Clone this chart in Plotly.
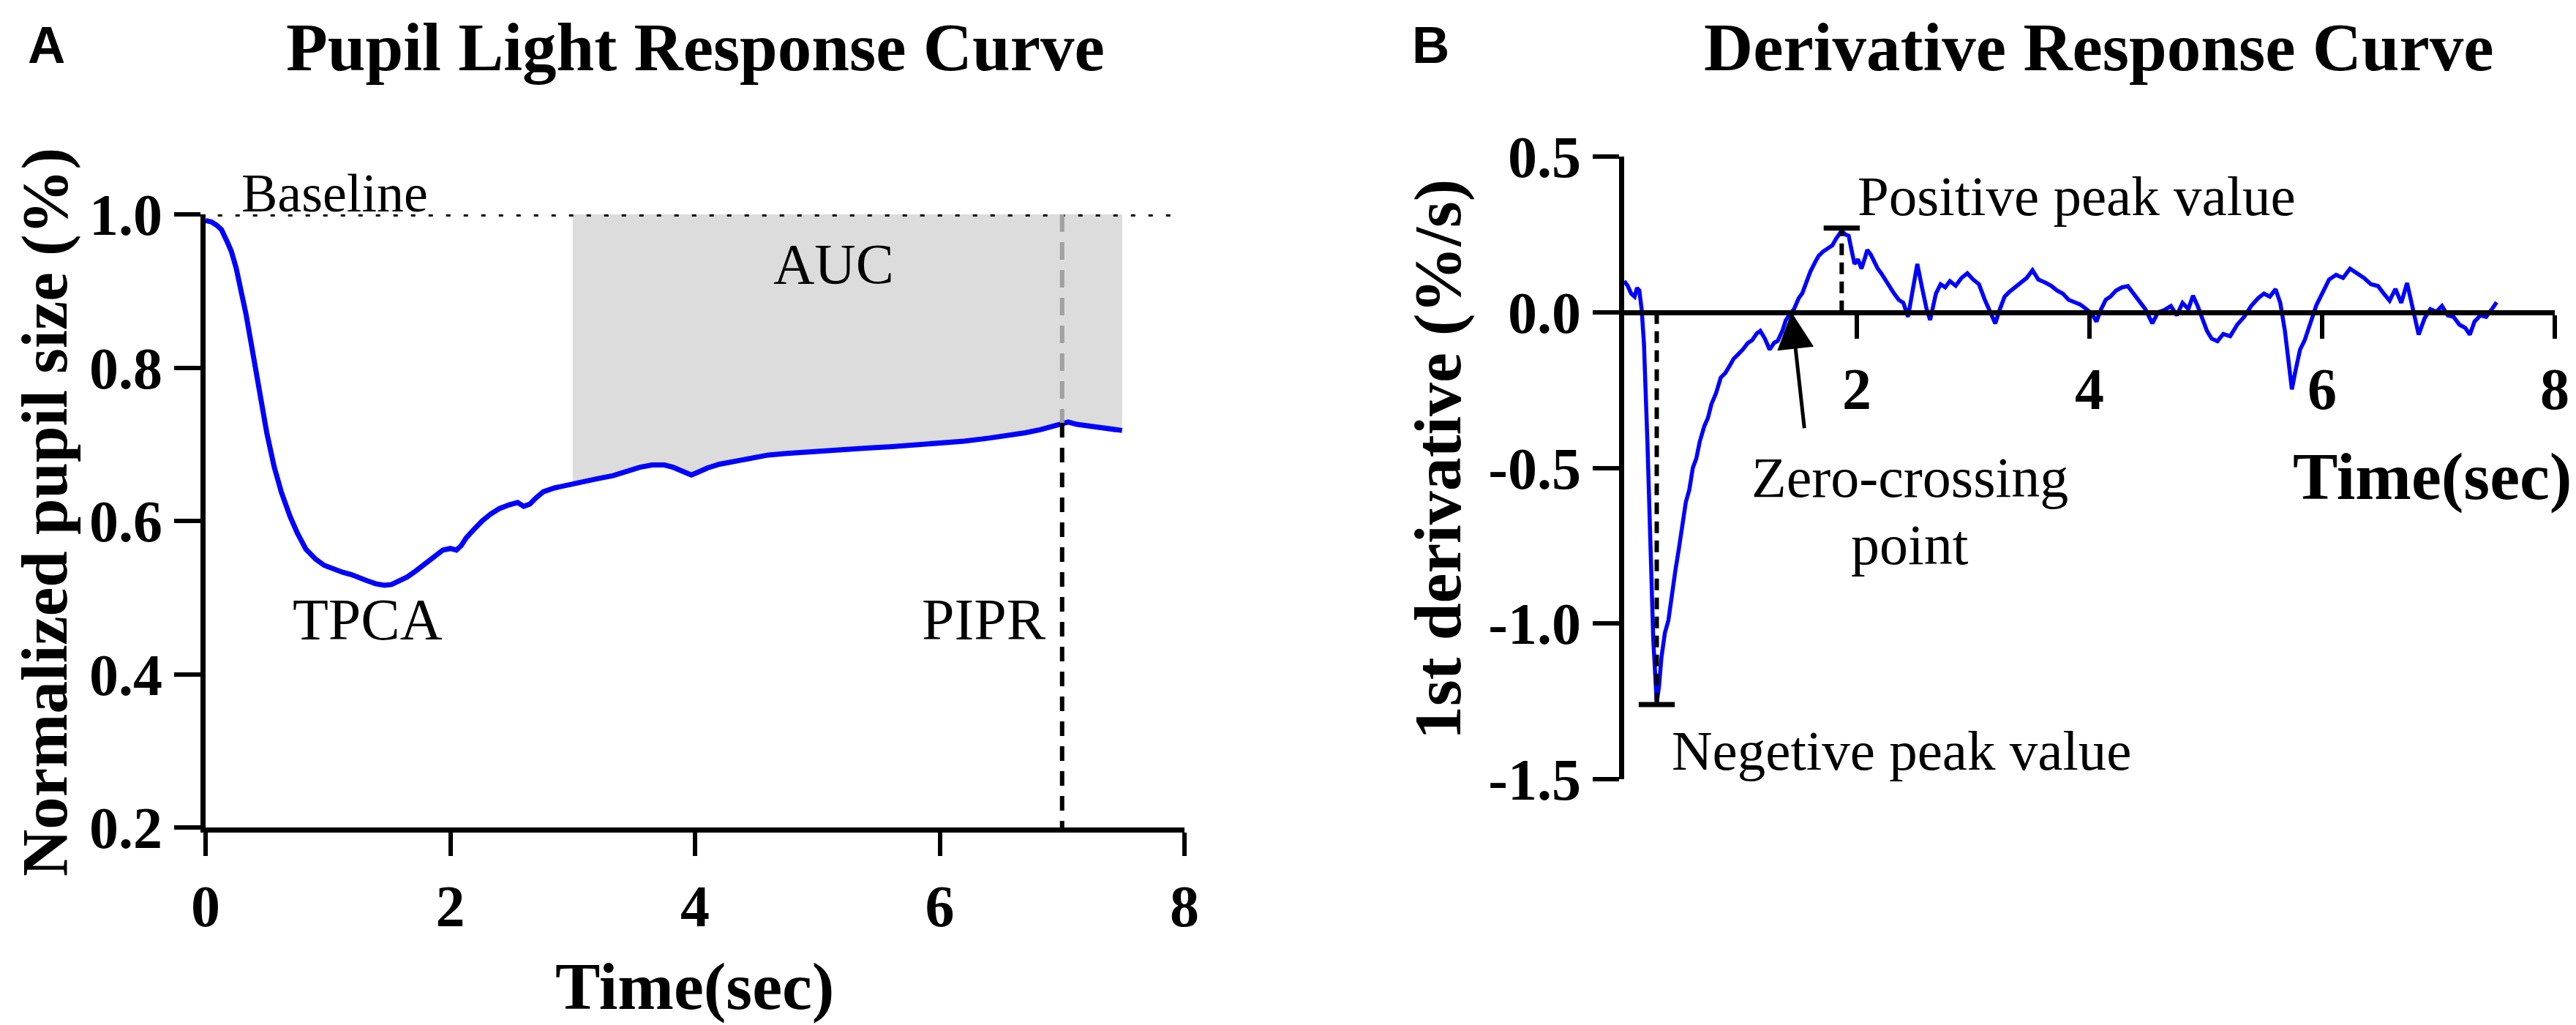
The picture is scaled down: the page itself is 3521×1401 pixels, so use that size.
import numpy as np
import plotly.graph_objects as go

W, H = 3521, 1401

# panel A: normalized pupil size over time
pupil_t = [0.00, 0.05, 0.09, 0.13, 0.18, 0.21, 0.25, 0.29, 0.33, 0.37, 0.41, 0.45, 0.50,
           0.56, 0.62, 0.69, 0.75, 0.82, 0.90, 0.97, 1.04, 1.12, 1.19, 1.25, 1.32, 1.39,
           1.46, 1.52, 1.58, 1.65, 1.72, 1.81, 1.88, 1.94, 2.00, 2.05, 2.09, 2.13, 2.20,
           2.26, 2.33, 2.40, 2.48, 2.55, 2.60, 2.65, 2.70, 2.76, 2.85, 2.93, 3.00, 3.10,
           3.20, 3.33, 3.45, 3.55, 3.65, 3.75, 3.82, 3.90, 3.97, 4.03, 4.10, 4.20, 4.35,
           4.50, 4.60, 4.75, 4.90, 5.08, 5.25, 5.40, 5.61, 5.80, 6.00, 6.20, 6.40, 6.55,
           6.70, 6.82, 6.92, 7.00, 7.05, 7.12, 7.22, 7.35, 7.49]
pupil_size = [0.992, 0.990, 0.986, 0.980, 0.963, 0.952, 0.930, 0.903, 0.870, 0.834, 0.796,
              0.760, 0.715, 0.671, 0.637, 0.606, 0.584, 0.563, 0.550, 0.542, 0.537, 0.533,
              0.530, 0.527, 0.522, 0.518, 0.516, 0.517, 0.521, 0.527, 0.535, 0.546, 0.555,
              0.562, 0.564, 0.562, 0.568, 0.578, 0.590, 0.600, 0.609, 0.616, 0.621, 0.624,
              0.619, 0.622, 0.630, 0.638, 0.643, 0.646, 0.649, 0.652, 0.655, 0.659, 0.665,
              0.670, 0.673, 0.673, 0.670, 0.664, 0.660, 0.664, 0.669, 0.674, 0.679, 0.683,
              0.686, 0.688, 0.690, 0.692, 0.693, 0.695, 0.697, 0.699, 0.701, 0.704, 0.708,
              0.711, 0.715, 0.719, 0.724, 0.728, 0.729, 0.726, 0.724, 0.721, 0.718]

# panel B: first derivative
deriv_t = [0.00, 0.03, 0.06, 0.09, 0.11, 0.13, 0.15, 0.17, 0.20, 0.23, 0.25, 0.28, 0.30,
           0.32, 0.35, 0.38, 0.41, 0.44, 0.47, 0.50, 0.53, 0.56, 0.59, 0.62, 0.65, 0.69,
           0.72, 0.75, 0.79, 0.83, 0.87, 0.91, 0.94, 0.98, 1.02, 1.06, 1.10, 1.14, 1.17,
           1.21, 1.25, 1.29, 1.32, 1.36, 1.39, 1.43, 1.46, 1.50, 1.53, 1.57, 1.60, 1.64,
           1.67, 1.71, 1.75, 1.79, 1.82, 1.85, 1.87, 1.90, 1.93, 1.96, 1.98, 2.01, 2.04,
           2.07, 2.09, 2.12, 2.15, 2.18, 2.21, 2.25, 2.28, 2.32, 2.36, 2.40, 2.44, 2.48,
           2.52, 2.56, 2.60, 2.63, 2.68, 2.72, 2.76, 2.80, 2.85, 2.90, 2.95, 3.00, 3.05,
           3.10, 3.15, 3.19, 3.23, 3.27, 3.31, 3.36, 3.41, 3.46, 3.51, 3.56, 3.62, 3.67,
           3.72, 3.77, 3.82, 3.87, 3.92, 3.97, 4.02, 4.06, 4.10, 4.14, 4.18, 4.23, 4.28,
           4.33, 4.38, 4.43, 4.48, 4.54, 4.59, 4.64, 4.70, 4.75, 4.80, 4.85, 4.89, 4.93,
           4.97, 5.01, 5.05, 5.10, 5.15, 5.21, 5.27, 5.33, 5.39, 5.45, 5.50, 5.55, 5.60,
           5.64, 5.68, 5.71, 5.74, 5.77, 5.81, 5.85, 5.90, 5.95, 6.00, 6.06, 6.12, 6.18,
           6.24, 6.30, 6.36, 6.42, 6.48, 6.53, 6.58, 6.63, 6.68, 6.73, 6.78, 6.83, 6.88,
           6.93, 6.98, 7.03, 7.08, 7.13, 7.18, 7.23, 7.27, 7.31, 7.36, 7.41, 7.46, 7.50]
deriv_val = [0.100, 0.085, 0.060, 0.050, 0.078, 0.070, 0.010, -0.100, -0.420, -0.760,
             -1.050, -1.255, -1.200, -1.110, -1.030, -0.990, -0.900, -0.830, -0.760,
             -0.690, -0.610, -0.570, -0.500, -0.470, -0.415, -0.365, -0.340, -0.295,
             -0.260, -0.210, -0.195, -0.170, -0.150, -0.135, -0.120, -0.100, -0.090,
             -0.068, -0.060, -0.085, -0.120, -0.098, -0.092, -0.060, -0.025, -0.004,
             0.010, 0.045, 0.060, 0.100, 0.130, 0.160, 0.180, 0.195, 0.205, 0.215, 0.235,
             0.250, 0.262, 0.250, 0.245, 0.190, 0.155, 0.170, 0.140, 0.175, 0.200, 0.185,
             0.160, 0.140, 0.125, 0.100, 0.085, 0.060, 0.040, 0.030, -0.015, 0.070, 0.155,
             0.080, 0.010, -0.025, 0.060, 0.090, 0.080, 0.100, 0.085, 0.110, 0.125, 0.105,
             0.090, 0.040, 0.000, -0.036, 0.010, 0.050, 0.065, 0.080, 0.095, 0.110, 0.135,
             0.105, 0.095, 0.085, 0.070, 0.060, 0.040, 0.032, 0.025, 0.011, -0.005, -0.030,
             0.010, 0.040, 0.050, 0.070, 0.080, 0.084, 0.060, 0.037, 0.010, -0.036, 0.000,
             0.006, 0.020, -0.010, 0.030, 0.010, 0.053, 0.020, -0.020, -0.060, -0.085,
             -0.093, -0.070, -0.077, -0.040, -0.015, 0.020, 0.045, 0.060, 0.050, 0.074,
             0.030, -0.060, -0.160, -0.248, -0.190, -0.120, -0.090, -0.030, 0.022, 0.060,
             0.105, 0.120, 0.110, 0.140, 0.125, 0.110, 0.090, 0.084, 0.060, 0.037, 0.075,
             0.030, 0.094, 0.010, -0.072, -0.020, 0.010, 0.001, 0.020, -0.010, -0.015,
             -0.040, -0.050, -0.072, -0.030, -0.010, -0.015, 0.010, 0.032]

auc_start, auc_end = 3.0, 7.5
pipr_time = 7.0

SERIF = "Liberation Serif"
BLUE = "#0000ff"


def px(x):
    return x / W


def py(y):
    return 1 - y / H


fig = go.Figure()

# AUC shaded area between curve and baseline
t_arr = np.array(pupil_t)
s_arr = np.array(pupil_size)
sel = (t_arr >= auc_start) & (t_arr <= auc_end)
fig.add_trace(go.Scatter(x=[auc_start] + list(t_arr[sel]) + [t_arr[sel][-1]],
                         y=[1.0] + list(s_arr[sel]) + [1.0],
                         fill="toself", fillcolor="#dcdcdc", mode="none",
                         xaxis="x", yaxis="y", hoverinfo="skip"))
fig.add_trace(go.Scatter(x=pupil_t, y=pupil_size, mode="lines",
                         line=dict(color=BLUE, width=7), xaxis="x", yaxis="y"))
fig.add_trace(go.Scatter(x=deriv_t, y=deriv_val, mode="lines",
                         line=dict(color=BLUE, width=5.5), xaxis="x2", yaxis="y2"))

pipr_val = float(np.interp(pipr_time, pupil_t, pupil_size))
d_arr = np.array(deriv_val)
dt_arr = np.array(deriv_t)
i_min = int(np.argmin(d_arr))
i_max = int(np.argmax(d_arr))
neg_t, neg_v = dt_arr[i_min], d_arr[i_min]
pos_t, pos_v = dt_arr[i_max], d_arr[i_max]
# zero crossing after the negative peak
zc = None
for i in range(i_min, len(d_arr) - 1):
    if d_arr[i] < 0 <= d_arr[i + 1]:
        zc = dt_arr[i] + (0 - d_arr[i]) * (dt_arr[i + 1] - dt_arr[i]) / (d_arr[i + 1] - d_arr[i])
        break

shapes = [
    # baseline dotted
    dict(type="line", xref="x", yref="y", x0=0.1, x1=7.95, y0=1.0, y1=1.0,
         line=dict(color="black", width=6, dash="6px,18px")),
    # PIPR
    dict(type="line", xref="x", yref="y", x0=pipr_time, x1=pipr_time, y0=1.0, y1=pipr_val,
         line=dict(color="#a0a0a0", width=6, dash="24px,14px")),
    dict(type="line", xref="x", yref="y", x0=pipr_time, x1=pipr_time, y0=pipr_val, y1=0.2,
         line=dict(color="black", width=6, dash="20px,14px")),
    # derivative peaks
    dict(type="line", xref="x2", yref="y2", x0=neg_t, x1=neg_t, y0=0, y1=neg_v,
         line=dict(color="black", width=6, dash="16px,10px")),
    dict(type="line", xref="x2", yref="y2", x0=neg_t - 0.155, x1=neg_t + 0.155,
         y0=neg_v - 0.005, y1=neg_v - 0.005, line=dict(color="black", width=7)),
    dict(type="line", xref="x2", yref="y2", x0=pos_t, x1=pos_t, y0=0, y1=pos_v,
         line=dict(color="black", width=6, dash="16px,10px")),
    dict(type="line", xref="x2", yref="y2", x0=pos_t - 0.155, x1=pos_t + 0.155,
         y0=pos_v + 0.008, y1=pos_v + 0.008, line=dict(color="black", width=7)),
]


def label(text, x, y, size=78, bold=False, family=SERIF, xanchor="center", angle=0):
    return dict(text=text, x=px(x), y=py(y), xref="paper", yref="paper",
                xanchor=xanchor, yanchor="middle", showarrow=False, textangle=angle,
                font=dict(family=family, size=size, color="black",
                          weight="bold" if bold else "normal"))


annotations = [
    label("A", 56, 53, size=71, bold=True, family="Liberation Sans"),
    label("B", 1948, 53, size=71, bold=True, family="Liberation Sans"),
    label("Pupil Light Response Curve", 943, 57, size=93, bold=True),
    label("Derivative Response Curve", 2861, 57, size=93, bold=True),
    label("Normalized pupil size (%)", 53, 692, size=89, bold=True, angle=-90),
    label("1st derivative (%/s)", 1957, 620, size=92, bold=True, angle=-90),
    label("Time(sec)", 942, 1340, size=92, bold=True),
    label("Time(sec)", 3124, 643, size=92, bold=True, xanchor="left"),
    label("Baseline", 320, 256, size=74, xanchor="left"),
    label("AUC", 1131, 353, size=78),
    label("TPCA", 495, 839, size=80),
    label("PIPR", 1337, 839, size=80),
    label("Positive peak value", 2529, 260, size=77, xanchor="left"),
    label("Zero-crossing", 2602, 644, size=78),
    label("point", 2602, 736, size=78),
    label("Negetive peak value", 2275, 1018, size=77, xanchor="left"),
    dict(x=zc, y=0, xref="x2", yref="y2", ax=1.55, ay=-0.376, axref="x2", ayref="y2",
         text="", showarrow=True, arrowhead=2, arrowsize=2.0, arrowwidth=5,
         arrowcolor="black"),
]

tickfont = dict(family=SERIF, size=80, color="black", weight="bold")
axis_common = dict(showline=True, linewidth=7, linecolor="black", ticks="outside",
                   tickwidth=6, tickcolor="black", showgrid=False, zeroline=False,
                   automargin=False, tickfont=tickfont)

y2_lo, y2_hi = py(1057), py(206)
# derivative time axis sits on the zero line
zero_pos = y2_lo + (0 - (-1.5)) / 2.0 * (y2_hi - y2_lo)

fig.update_layout(
    template="none",
    width=W, height=H, autosize=False,
    margin=dict(l=0, r=0, t=0, b=0, pad=0, autoexpand=False),
    paper_bgcolor="white", plot_bgcolor="white",
    showlegend=False,
    shapes=shapes, annotations=annotations,
    xaxis=dict(domain=[px(273), px(1611)], range=[0, 8], tickvals=[0, 2, 4, 6, 8],
               ticklen=32, anchor="y", **axis_common),
    yaxis=dict(domain=[py(1123), py(285)], range=[0.2, 1.0],
               tickvals=[0.2, 0.4, 0.6, 0.8, 1.0],
               ticktext=["0.2", "0.4", "0.6", "0.8", "1.0"],
               ticklen=36, anchor="x", **axis_common),
    xaxis2=dict(domain=[px(2212), px(3484)], range=[0, 8], tickvals=[2, 4, 6, 8],
                ticklen=32, anchor="free", position=zero_pos, **axis_common),
    yaxis2=dict(domain=[y2_lo, y2_hi], range=[-1.5, 0.5],
                tickvals=[-1.5, -1.0, -0.5, 0.0, 0.5],
                ticktext=["-1.5", "-1.0", "-0.5", "0.0", "0.5"],
                ticklen=36, anchor="x2", **axis_common),
)

fig.write_html("out.html")
